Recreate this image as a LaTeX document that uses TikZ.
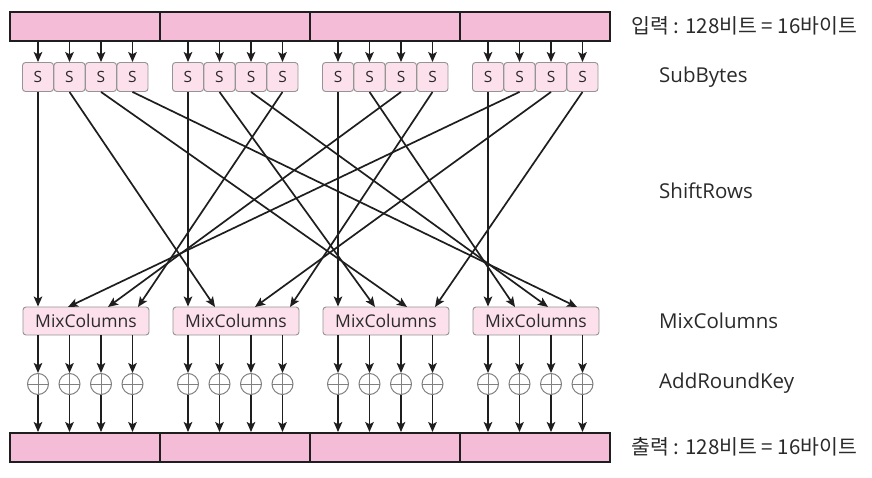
\documentclass[tikz,border=0pt]{standalone}
\usepackage{fontspec}
\setmainfont{Open Sans}
\newfontfamily\kr{Noto Sans CJK KR}
\usetikzlibrary{arrows.meta}
\definecolor{barpink}{HTML}{F4BCD6}
\definecolor{boxpink}{HTML}{FCE1EC}
\definecolor{boxline}{HTML}{949494}
\definecolor{ink}{HTML}{1E1E1E}
\definecolor{textgray}{HTML}{2A2A2A}

\begin{document}
\begin{tikzpicture}[x=1pt, y=-1pt,
  bar/.style={rectangle, draw=ink, line width=1.9pt, fill=barpink, minimum width=150pt, minimum height=29pt, inner sep=0pt},
  sbox/.style={rectangle, rounded corners=3pt, draw=boxline, line width=0.9pt, fill=boxpink, minimum width=31pt, minimum height=29pt, inner sep=0pt, text=textgray, font=\fontsize{15.5}{16}\selectfont},
  mcbox/.style={rectangle, rounded corners=3pt, draw=boxline, line width=0.9pt, fill=boxpink, minimum width=126pt, minimum height=28pt, inner sep=0pt, text=textgray, font=\fontsize{17.5}{18}\selectfont},
  xorop/.style={circle, draw=gray, line width=1pt, fill=white, minimum size=21pt, inner sep=0pt,
    path picture={\draw[gray, line width=1pt] (path picture bounding box.north) -- (path picture bounding box.south) (path picture bounding box.west) -- (path picture bounding box.east);}},
  arr/.style={-{Stealth[length=10pt, width=8.5pt, inset=2.2pt]}, line width=1.7pt, draw=ink},
  rowtext/.style={anchor=west, inner sep=0pt, text=textgray, font=\fontsize{20.5}{21}\selectfont}]
\useasboundingbox (0,0) rectangle (872,478);

% input and output words, S-boxes, MixColumns, xor
\foreach \g in {0,...,3} {
  \node[bar] (in-\g) at (85+150*\g, 26.5) {};
  \node[bar] (out-\g) at (85+150*\g, 447.5) {};
  \node[mcbox] (mc-\g) at (86+150*\g, 321) {MixColumns};
  \foreach \r in {0,...,3} {
    \node[sbox] (s-\g-\r) at (38+150*\g+31.5*\r, 77) {S};
    \node[xorop] (x-\g-\r) at (38+150*\g+31.5*\r, 384) {};
  }
}

% straight arrows
\foreach \g in {0,...,3} \foreach \r in {0,...,3} {
  \draw[arr] (s-\g-\r |- in-\g.south) -- (s-\g-\r.north);
  \draw[arr] (x-\g-\r |- mc-\g.south) -- (x-\g-\r.north);
  \draw[arr] (x-\g-\r.south) -- (x-\g-\r |- out-\g.north);
}

% ShiftRows
\foreach \tg/\r/\tx in {0/1/68, 0/2/108, 0/3/138, 1/1/215, 1/2/255, 1/3/290,
    2/1/375, 2/2/407, 2/3/435, 3/1/515, 3/2/548, 3/3/577}
  \coordinate (t-\tg-\r) at (\tx, 307);
\foreach \g in {0,...,3} {
  \draw[arr] (s-\g-0.south) -- (s-\g-0 |- mc-\g.north);
  \foreach \r in {1,2,3} {
    \pgfmathtruncatemacro\tg{mod(\g+\r,4)}
    \draw[arr] (s-\g-\r.south) -- (t-\tg-\r);
  }
}

% step names
\node[rowtext, font=\kr\fontsize{20.5}{21}\selectfont] (inlabel) at (631, 26) {입력 : 128비트 = 16바이트};
\node[rowtext] (subbytes) at (659, 77) {SubBytes};
\node[rowtext] (shiftrows) at (659, 191) {ShiftRows};
\node[rowtext] (mixcolumns) at (659, 321) {MixColumns};
\node[rowtext] (addroundkey) at (659, 383) {AddRoundKey};
\node[rowtext, font=\kr\fontsize{20.5}{21}\selectfont] (outlabel) at (631, 447) {출력 : 128비트 = 16바이트};

\end{tikzpicture}
\end{document}
